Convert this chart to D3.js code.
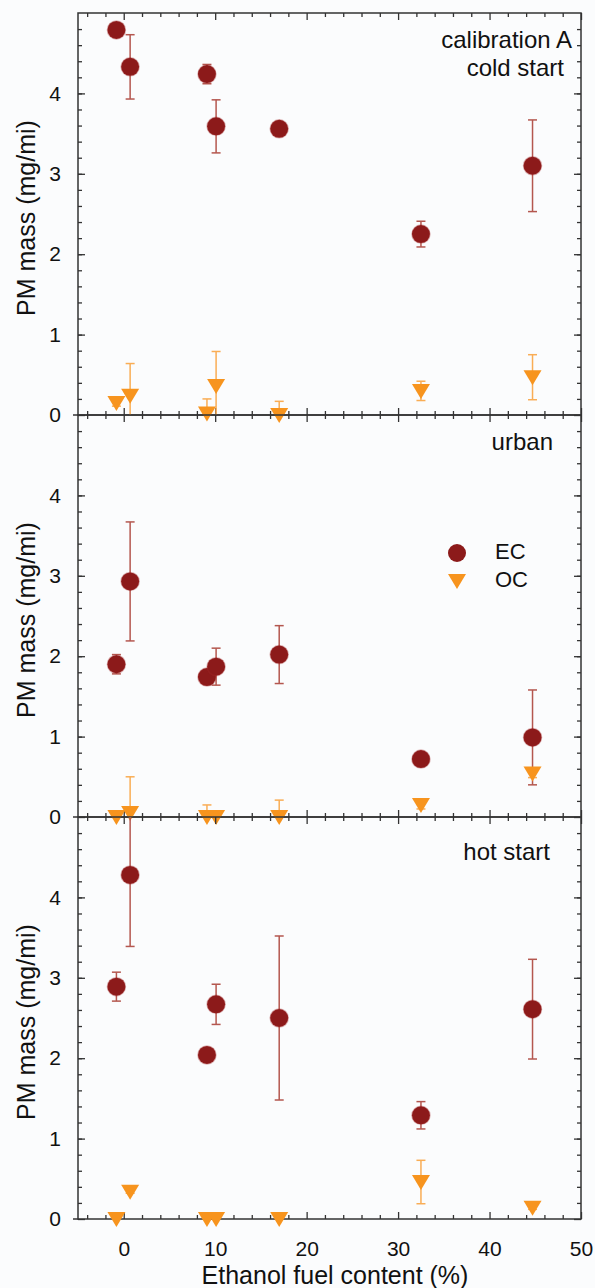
<!DOCTYPE html>
<html lang="en">
<head>
    <meta charset="UTF-8">
    <title>PM mass vs ethanol content</title>
    <script src="https://d3js.org/d3.v7.min.js"></script>
    <style>
        body {
            margin: 0;
            background-color: #fbfcfd;
            font-family: 'Liberation Sans', Arial, sans-serif;
        }
        .axis path { display: none; }
        .axis line { stroke: #333; stroke-width: 1.3; }
        .axis text { font-size: 21px; fill: #111; font-family: 'Liberation Sans', Arial, sans-serif; }
        .frame { fill: none; stroke: #333; stroke-width: 1.5; }
        .label { font-size: 25px; fill: #111; }
        .title { font-size: 24px; fill: #111; }
        .legend { font-size: 22px; fill: #111; }
    </style>
</head>
<body>
    <svg width="595" height="1288" id="chart"></svg>

    <script>
        // Ethanol content of each fuel (x), slightly offset in the original
        const fuelContent = [-0.8, 0.7, 9.1, 10.1, 17, 32.5, 44.7];

        // calibration A cold start
        const ecCold    = [4.79, 4.33, 4.24, 3.59, 3.56, 2.25, 3.10];
        const ecColdErr = [0.05, 0.40, 0.12, 0.33, 0.08, 0.16, 0.57];
        const ocCold    = [0.15, 0.24, 0.02, 0.36, 0.00, 0.30, 0.47];
        const ocColdErr = [0.04, 0.40, 0.18, 0.43, 0.17, 0.12, 0.28];

        // urban
        const ecUrban    = [1.90, 2.93, 1.74, 1.87, 2.02, 0.72, 0.99];
        const ecUrbanErr = [0.12, 0.74, 0.06, 0.23, 0.36, 0.06, 0.59];
        const ocUrban    = [0.00, 0.05, 0.00, 0.00, 0.00, 0.15, 0.54];
        const ocUrbanErr = [0.02, 0.45, 0.15, 0.03, 0.21, 0.05, 0.05];

        // hot start
        const ecHot    = [2.89, 4.28, 2.04, 2.67, 2.50, 1.29, 2.61];
        const ecHotErr = [0.18, 0.89, 0.05, 0.25, 1.02, 0.17, 0.62];
        const ocHot    = [0.00, 0.34, 0.00, 0.00, 0.00, 0.46, 0.14];
        const ocHotErr = [0.00, 0.02, 0.00, 0.00, 0.00, 0.27, 0.02];

        const panelTitles = [["calibration A", "cold start"], ["urban"], ["hot start"]];
        const xTicks = [0, 10, 20, 30, 40, 50];
        const yTicks = [0, 1, 2, 3, 4];

        const panels = [
            { ec: ecCold, ecErr: ecColdErr, oc: ocCold, ocErr: ocColdErr },
            { ec: ecUrban, ecErr: ecUrbanErr, oc: ocUrban, ocErr: ocUrbanErr },
            { ec: ecHot, ecErr: ecHotErr, oc: ocHot, ocErr: ocHotErr }
        ];

        const svg = d3.select("#chart");
        const left = 78, right = 581, top0 = 13, panelH = 402;
        const ecColor = "#8c1a1a", ecBar = "#b4574f";
        const ocColor = "#f7941e", ocBar = "#f9ad55";

        svg.append("rect").attr("width", 595).attr("height", 1288).attr("fill", "#fbfcfd");

        const x = d3.scaleLinear().domain([-5, 50]).range([left, right]);

        // downward triangle marker
        function triangle() {
            const p = d3.path();
            p.moveTo(-9, -7); p.lineTo(9, -7); p.lineTo(0, 8); p.closePath();
            return p.toString();
        }

        // error bars, cut at the panel limits (no cap where cut)
        function errorBars(g, xs, ys, errs, y, color) {
            const bars = g.append("g").attr("stroke", color).attr("stroke-width", 1.5);
            const [lo, hi] = y.domain();
            xs.forEach((xv, i) => {
                if (errs[i] <= 0) return;
                const up = ys[i] + errs[i], dn = ys[i] - errs[i];
                const y1 = y(Math.min(up, hi)), y2 = y(Math.max(dn, lo));
                const cx = x(xv);
                bars.append("line").attr("x1", cx).attr("x2", cx).attr("y1", y1).attr("y2", y2);
                if (up <= hi)
                    bars.append("line").attr("x1", cx - 4.5).attr("x2", cx + 4.5).attr("y1", y1).attr("y2", y1);
                if (dn >= lo)
                    bars.append("line").attr("x1", cx - 4.5).attr("x2", cx + 4.5).attr("y1", y2).attr("y2", y2);
            });
        }

        panels.forEach((pd, k) => {
            const top = top0 + k * panelH, bottom = top + panelH;
            const y = d3.scaleLinear().domain([0, 5]).range([bottom, top]);
            const g = svg.append("g");

            // axes: major and minor ticks, pointing inward on all four sides
            g.append("g").attr("class", "axis").attr("transform", `translate(${left},0)`)
                .call(d3.axisLeft(y).tickValues(yTicks).tickSize(-7).tickPadding(17).tickFormat(d3.format("d")));
            g.append("g").attr("class", "axis").attr("transform", `translate(${left},0)`)
                .call(d3.axisLeft(y).tickValues(d3.range(0.2, 5, 0.2)).tickSize(-4).tickFormat(""));
            g.append("g").attr("class", "axis").attr("transform", `translate(${right},0)`)
                .call(d3.axisRight(y).tickValues(yTicks).tickSize(-7).tickFormat(""));
            g.append("g").attr("class", "axis").attr("transform", `translate(${right},0)`)
                .call(d3.axisRight(y).tickValues(d3.range(0.2, 5, 0.2)).tickSize(-4).tickFormat(""));

            const xMinor = d3.range(-4, 50, 2).filter(v => v % 10 !== 0);
            g.append("g").attr("class", "axis").attr("transform", `translate(0,${top})`)
                .call(d3.axisTop(x).tickValues(xTicks).tickSize(-7).tickFormat(""));
            g.append("g").attr("class", "axis").attr("transform", `translate(0,${top})`)
                .call(d3.axisTop(x).tickValues(xMinor).tickSize(-4).tickFormat(""));
            g.append("g").attr("class", "axis").attr("transform", `translate(0,${bottom})`)
                .call(d3.axisBottom(x).tickValues(xTicks).tickSize(-7).tickPadding(22)
                    .tickFormat(k === 2 ? d3.format("d") : ""));
            g.append("g").attr("class", "axis").attr("transform", `translate(0,${bottom})`)
                .call(d3.axisBottom(x).tickValues(xMinor).tickSize(-4).tickFormat(""));

            g.append("rect").attr("class", "frame")
                .attr("x", left).attr("y", top).attr("width", right - left).attr("height", panelH);
            g.append("line").attr("class", "frame").attr("x1", left - 5).attr("x2", left)
                .attr("y1", bottom).attr("y2", bottom);

            // y axis label
            g.append("text").attr("class", "label")
                .attr("text-anchor", "middle")
                .attr("transform", `translate(35,${(top + bottom) / 2 + 4}) rotate(-90)`)
                .text("PM mass (mg/mi)");

            // error bars behind markers
            errorBars(g, fuelContent, pd.ec, pd.ecErr, y, ecBar);
            errorBars(g, fuelContent, pd.oc, pd.ocErr, y, ocBar);

            g.selectAll(".ec").data(fuelContent).enter().append("circle")
                .attr("cx", d => x(d))
                .attr("cy", (d, i) => y(pd.ec[i]))
                .attr("r", 9)
                .attr("fill", ecColor)
                .attr("stroke", "rgba(160,40,40,0.35)").attr("stroke-width", 1.5);

            g.selectAll(".oc").data(fuelContent).enter().append("path")
                .attr("d", triangle())
                .attr("transform", (d, i) => `translate(${x(d)},${y(pd.oc[i])})`)
                .attr("fill", ocColor);
        });

        // panel titles
        const titlePos = [[[572, 48], [564, 76]], [[553, 450]], [[550, 860]]];
        panelTitles.forEach((lines, k) => {
            lines.forEach((t, j) => {
                svg.append("text").attr("class", "title")
                    .attr("text-anchor", "end")
                    .attr("x", titlePos[k][j][0]).attr("y", titlePos[k][j][1])
                    .text(t);
            });
        });

        // legend in the urban panel
        const legend = svg.append("g");
        legend.append("circle").attr("cx", 457).attr("cy", 553).attr("r", 9).attr("fill", ecColor);
        legend.append("path").attr("d", triangle()).attr("transform", "translate(457,581)").attr("fill", ocColor);
        legend.append("text").attr("class", "legend").attr("x", 495).attr("y", 559).text("EC");
        legend.append("text").attr("class", "legend").attr("x", 495).attr("y", 587).text("OC");

        // x axis label
        svg.append("text").attr("class", "label")
            .attr("text-anchor", "middle")
            .attr("x", 335).attr("y", 1284)
            .text("Ethanol fuel content (%)");
    </script>
</body>
</html>
